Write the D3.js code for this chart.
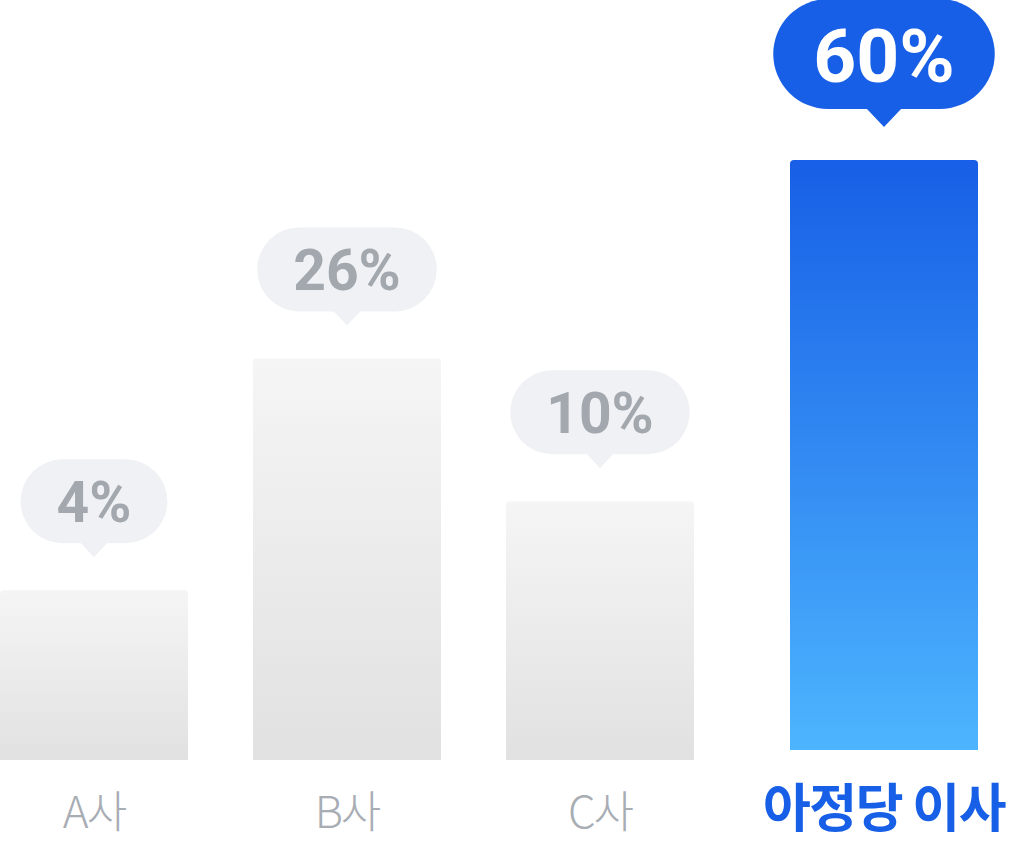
<!DOCTYPE html>
<html>
<head>
<meta charset="utf-8">
<script src="https://cdn.jsdelivr.net/npm/d3@7"></script>
<style>
  html, body { margin: 0; padding: 0; background: #ffffff; }
  svg { display: block; }
</style>
</head>
<body>
<div id="chart"></div>
<script>
// ---- data ----
const categories = ["A사", "B사", "C사", "아정당 이사"];
const values = [4, 26, 10, 60];
const valueLabels = ["4%", "26%", "10%", "60%"];
const highlighted = [false, false, false, true];

// ---- layout ----
const W = 1011, H = 843;
const baseY = 760;          // baseline of regular bars
const highlightLift = 10;   // highlighted bar sits a little higher
const highlightShift = 31;  // highlighted bar pushed right
const barRadius = 4;

const svg = d3.select("#chart").append("svg")
  .attr("width", W).attr("height", H);

const defs = svg.append("defs");
const gGray = defs.append("linearGradient").attr("id", "gradGray")
  .attr("x1", 0).attr("y1", 0).attr("x2", 0).attr("y2", 1);
gGray.append("stop").attr("offset", "0%").attr("stop-color", "#f5f5f6");
gGray.append("stop").attr("offset", "100%").attr("stop-color", "#e1e1e2");
const gBlue = defs.append("linearGradient").attr("id", "gradBlue")
  .attr("x1", 0).attr("y1", 0).attr("x2", 0).attr("y2", 1);
gBlue.append("stop").attr("offset", "0%").attr("stop-color", "#175fe6");
gBlue.append("stop").attr("offset", "100%").attr("stop-color", "#4db5fe");

const data = categories.map((c, i) => ({
  cat: c, value: values[i], label: valueLabels[i], hi: highlighted[i]
}));

const x = d3.scaleBand()
  .domain(categories)
  .range([0, 947])
  .paddingInner(65 / 253)
  .paddingOuter(0);

const hScale = d3.scalePow().exponent(0.46)
  .domain([0, d3.max(values)])
  .range([0, 590]);

const bx = d => x(d.cat) + (d.hi ? highlightShift : 0);
const barBottom = d => baseY - (d.hi ? highlightLift : 0);
const barTop = d => barBottom(d) - hScale(d.value);

function barPath(d) {
  const x0 = bx(d), x1 = x0 + x.bandwidth();
  const y0 = barTop(d), y1 = barBottom(d), r = barRadius;
  return `M${x0},${y1}V${y0 + r}Q${x0},${y0} ${x0 + r},${y0}H${x1 - r}Q${x1},${y0} ${x1},${y0 + r}V${y1}Z`;
}

svg.append("g").selectAll("path.bar").data(data).join("path")
  .attr("class", "bar")
  .attr("d", barPath)
  .attr("fill", d => d.hi ? "url(#gradBlue)" : "url(#gradGray)");

// ---- value bubbles ----
const bubbles = svg.append("g").selectAll("g.bubble").data(data).join("g")
  .attr("class", "bubble");

bubbles.each(function(d) {
  const g = d3.select(this);
  const cx = bx(d) + x.bandwidth() / 2;
  const gap = 33;
  const tipY = barTop(d) - gap;
  const ph = d.hi ? 18 : 14;             // pointer height
  const bh = d.hi ? 110 : 84;            // bubble height
  const pad = d.hi ? 40 : 36;
  const fs = d.hi ? 75 : 57;
  const bBottom = tipY - ph;
  const bTop = bBottom - bh;

  const rect = g.append("rect");
  const ptr = g.append("path");
  const t = g.append("text")
    .attr("x", cx)
    .attr("y", bTop + bh / 2 + (d.hi ? 2 : 1))
    .attr("text-anchor", "middle")
    .attr("dominant-baseline", "central")
    .attr("font-family", "Roboto, 'Noto Sans CJK KR', sans-serif")
    .attr("font-weight", 700)
    .attr("font-size", fs)
    .attr("fill", d.hi ? "#ffffff" : "#a3a8af")
    .text(d.label);
  const tw = t.node().getComputedTextLength();
  const bw = tw + 2 * pad;
  const fill = d.hi ? "#175fe6" : "#f0f1f4";
  rect.attr("x", cx - bw / 2).attr("y", bTop)
    .attr("width", bw).attr("height", bh)
    .attr("rx", bh / 2).attr("ry", bh / 2)
    .attr("fill", fill);
  ptr.attr("d", `M${cx - ph},${bBottom - 1}L${cx + ph},${bBottom - 1}L${cx},${tipY}Z`)
    .attr("fill", fill);
});

// ---- category labels ----
svg.append("g").selectAll("text.cat").data(data).join("text")
  .attr("class", "cat")
  .attr("x", d => bx(d) + x.bandwidth() / 2)
  .attr("y", d => d.hi ? 827 : 828)
  .attr("text-anchor", "middle")
  .attr("font-family", "'Noto Sans CJK KR', sans-serif")
  .attr("font-weight", d => d.hi ? 700 : 300)
  .attr("font-size", d => d.hi ? 52 : 44)
  .attr("letter-spacing", d => d.hi ? -1.5 : -2)
  .attr("fill", d => d.hi ? "#175fe6" : "#a8adb4")
  .text(d => d.cat);
</script>
</body>
</html>
